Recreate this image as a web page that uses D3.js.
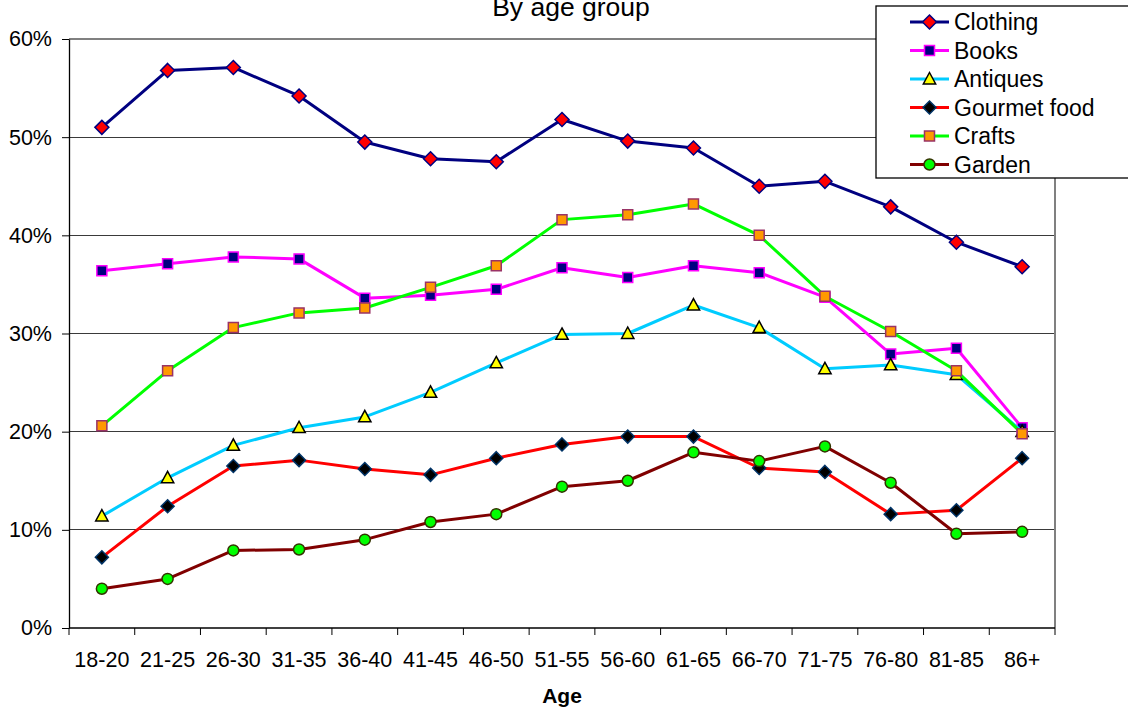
<!DOCTYPE html>
<html>
<head>
<meta charset="utf-8">
<script src="https://cdn.jsdelivr.net/npm/d3@7/dist/d3.min.js"></script>
<style>
  html, body { margin: 0; padding: 0; background: #fff; }
  svg { display: block; font-family: "Liberation Sans", Arial, sans-serif; }
</style>
</head>
<body>
<svg id="chart" width="1128" height="711"></svg>
<script>
// Share of buyers by age group, per product category
const ageGroups = ["18-20","21-25","26-30","31-35","36-40","41-45","46-50","51-55","56-60","61-65","66-70","71-75","76-80","81-85","86+"];

const clothing = [0.510,0.568,0.571,0.542,0.495,0.478,0.475,0.518,0.496,0.489,0.450,0.455,0.429,0.393,0.368];
const books    = [0.364,0.371,0.378,0.376,0.336,0.339,0.345,0.367,0.357,0.369,0.362,0.337,0.279,0.285,0.204];
const antiques = [0.114,0.153,0.186,0.204,0.215,0.240,0.270,0.299,0.300,0.329,0.306,0.264,0.268,0.258,0.200];
const gourmet  = [0.072,0.124,0.165,0.171,0.162,0.156,0.173,0.187,0.195,0.195,0.163,0.159,0.116,0.120,0.173];
const crafts   = [0.206,0.262,0.306,0.321,0.326,0.347,0.369,0.416,0.421,0.432,0.400,0.338,0.302,0.262,0.198];
const garden   = [0.040,0.050,0.079,0.080,0.090,0.108,0.116,0.144,0.150,0.179,0.170,0.185,0.148,0.096,0.098];

const yTicks = [0, 0.1, 0.2, 0.3, 0.4, 0.5, 0.6];

const seriesNames = ["Clothing","Books","Antiques","Gourmet food","Crafts","Garden"];
const seriesValues = [clothing, books, antiques, gourmet, crafts, garden];

// Line and marker styling per series
const styles = {
  "Clothing":     { line: "#000080", shape: "diamond",  fill: "#FF0000", stroke: "#000080", size: 7 },
  "Books":        { line: "#FF00FF", shape: "square",   fill: "#000080", stroke: "#FF00FF", size: 5 },
  "Antiques":     { line: "#00CCFF", shape: "triangle", fill: "#FFFF00", stroke: "#000000", size: 6.5 },
  "Gourmet food": { line: "#FF0000", shape: "diamond",  fill: "#000000", stroke: "#003366", size: 6.5 },
  "Crafts":       { line: "#00FF00", shape: "square",   fill: "#FF9900", stroke: "#993366", size: 5 },
  "Garden":       { line: "#800000", shape: "circle",   fill: "#00FF00", stroke: "#333300", size: 5.5 }
};

const svg = d3.select("#chart");
const plotLeft = 69, plotRight = 1055, plotTop = 39, plotBottom = 628;

const x = d3.scaleBand().domain(ageGroups).range([plotLeft, plotRight]).padding(0);
const y = d3.scaleLinear().domain([0, 0.6]).range([plotBottom, plotTop]);

// Horizontal gridlines
svg.append("g")
  .selectAll("line")
  .data(yTicks.filter(t => t > 0 && t < 0.6))
  .join("line")
  .attr("x1", plotLeft).attr("x2", plotRight)
  .attr("y1", d => y(d)).attr("y2", d => y(d))
  .attr("stroke", "#3a3a3a").attr("stroke-width", 1).attr("shape-rendering", "crispEdges");

// Plot area frame (top and right edges)
svg.append("path")
  .attr("d", `M${plotLeft},${y(0.6)}H${plotRight}V${plotBottom}`)
  .attr("fill", "none").attr("stroke", "#808080").attr("stroke-width", 2);

// Y axis
const yAxis = d3.axisLeft(y).tickValues(yTicks).tickFormat(d3.format(".0%"))
  .tickSizeInner(7).tickSizeOuter(0).tickPadding(10);
const gy = svg.append("g").attr("transform", `translate(${plotLeft},0)`).call(yAxis);
gy.select(".domain").attr("stroke", "#000").attr("stroke-width", 1.3);
gy.selectAll(".tick line").attr("stroke", "#000");
gy.selectAll("text").attr("font-size", 21.5).attr("fill", "#000")
  .attr("font-family", "Liberation Sans, Arial, sans-serif");

// X axis: labels centred on categories, ticks on category boundaries
const xAxis = d3.axisBottom(x).tickSize(0).tickPadding(24);
const gx = svg.append("g").attr("transform", `translate(0,${plotBottom})`).call(xAxis);
gx.select(".domain").attr("stroke", "#000").attr("stroke-width", 1.5).attr("d", `M${plotLeft},0H${plotRight}`);
gx.selectAll("text").attr("font-size", 21.5).attr("fill", "#000")
  .attr("font-family", "Liberation Sans, Arial, sans-serif");
const edges = ageGroups.map(a => x(a)).concat([x(ageGroups[ageGroups.length - 1]) + x.bandwidth()]);
gx.append("g").selectAll("line").data(edges).join("line")
  .attr("x1", d => d).attr("x2", d => d).attr("y1", 0).attr("y2", 7)
  .attr("stroke", "#000").attr("stroke-width", 1);

// Marker path generator
function markerPath(shape, s) {
  switch (shape) {
    case "diamond":  return `M0,${-s}L${s},0L0,${s}L${-s},0Z`;
    case "square":   return `M${-s},${-s}H${s}V${s}H${-s}Z`;
    case "triangle": return `M0,${-s}L${s*0.95},${s*0.75}H${-s*0.95}Z`;
    default:         return d3.arc()({innerRadius: 0, outerRadius: s, startAngle: 0, endAngle: 2 * Math.PI});
  }
}

const cx = d => x(d) + x.bandwidth() / 2;
const line = d3.line().x(d => cx(d.age)).y(d => y(d.v));

seriesNames.forEach((name, i) => {
  const st = styles[name];
  const data = ageGroups.map((a, j) => ({ age: a, v: seriesValues[i][j] }));
  const g = svg.append("g");
  g.append("path").datum(data).attr("d", line)
    .attr("fill", "none").attr("stroke", st.line).attr("stroke-width", 3)
    .attr("stroke-linejoin", "round");
  g.selectAll("path.m").data(data).join("path").attr("class", "m")
    .attr("transform", d => `translate(${cx(d.age)},${y(d.v)})`)
    .attr("d", markerPath(st.shape, st.size))
    .attr("fill", st.fill).attr("stroke", st.stroke).attr("stroke-width", 1.5);
});

// Title
svg.append("text").attr("x", 571).attr("y", 16).attr("text-anchor", "middle")
  .attr("font-size", 26.5).attr("fill", "#000").text("By age group");

// X axis title
svg.append("text").attr("x", 562).attr("y", 703).attr("text-anchor", "middle")
  .attr("font-size", 21).attr("font-weight", "bold").attr("fill", "#000").text("Age");

// Legend
const lg = svg.append("g");
lg.append("rect").attr("x", 876).attr("y", 6).attr("width", 260).attr("height", 172)
  .attr("fill", "#fff").attr("stroke", "#000").attr("stroke-width", 1.3);
seriesNames.forEach((name, i) => {
  const st = styles[name];
  const ry = 22 + i * 28.5;
  lg.append("line").attr("x1", 910).attr("x2", 949).attr("y1", ry).attr("y2", ry)
    .attr("stroke", st.line).attr("stroke-width", 3);
  lg.append("path").attr("transform", `translate(929.5,${ry})`)
    .attr("d", markerPath(st.shape, st.size))
    .attr("fill", st.fill).attr("stroke", st.stroke).attr("stroke-width", 1.5);
  lg.append("text").attr("x", 954).attr("y", ry).attr("dy", "0.36em")
    .attr("font-size", 23).attr("fill", "#000").text(name);
});
</script>
</body>
</html>
